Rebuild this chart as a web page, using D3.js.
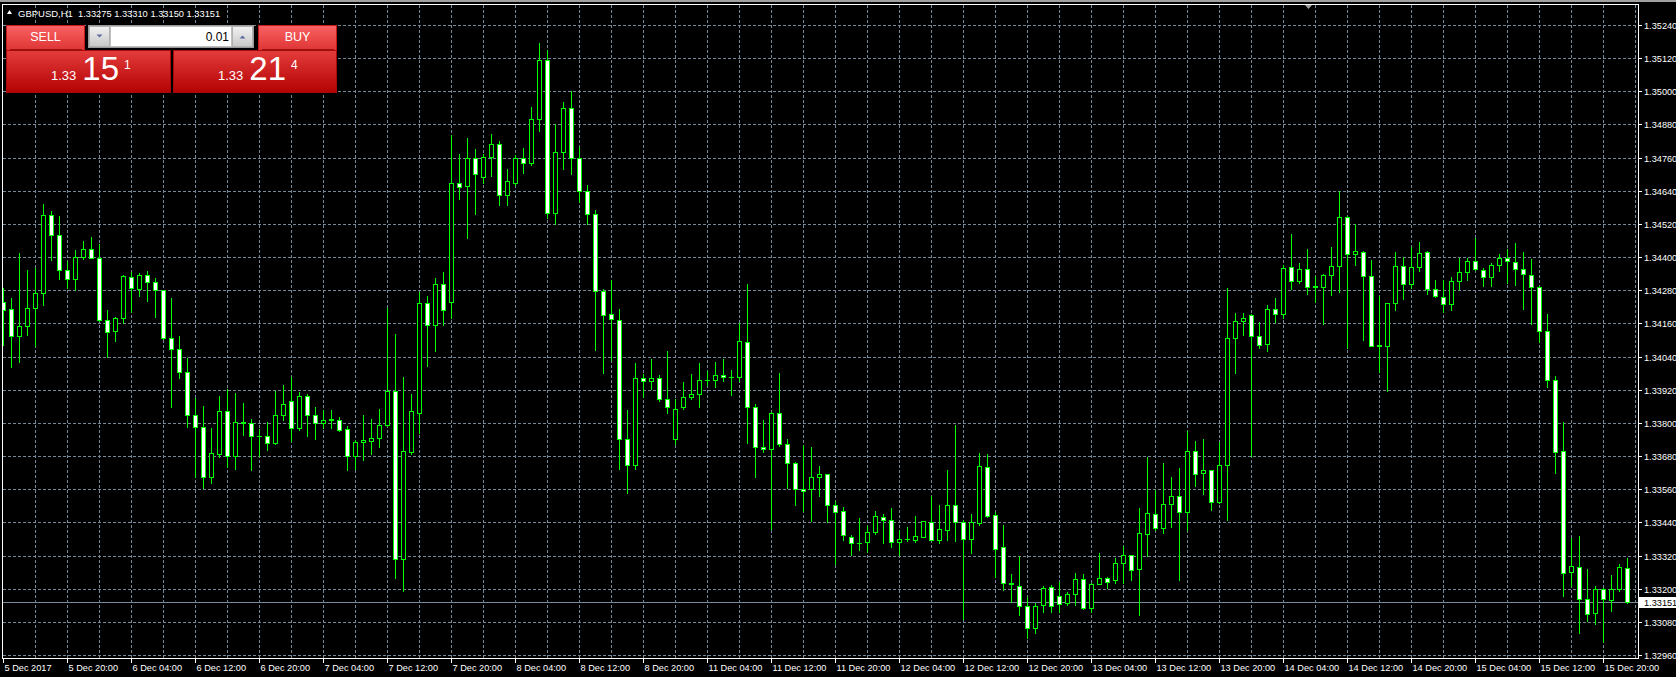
<!DOCTYPE html>
<html><head><meta charset="utf-8">
<script src="https://cdn.jsdelivr.net/npm/d3@7"></script>
<style>
html,body{margin:0;padding:0;background:#000;overflow:hidden}
svg{display:block}
text{font-family:"Liberation Sans",Arial,sans-serif}
</style></head><body>
<svg id="c" width="1676" height="677"></svg>
<script>
// ---- data (GBPUSD H1, 5 Dec 2017 12:00 .. 15 Dec 2017 23:00) ----
const open = [
1.34237,1.34212,1.34114,1.34150,1.34216,1.34270,1.34553,1.34480,1.34353,1.34321,
1.34401,1.34430,1.34397,1.34172,1.34131,1.34179,1.34328,1.34283,1.34335,1.34310,
1.34281,1.34106,1.34067,1.33984,1.33828,1.33784,1.33603,1.33686,1.33842,1.33680,
1.33800,1.33799,1.33754,1.33751,1.33728,1.33830,1.33878,1.33782,1.33899,1.33827,
1.33800,1.33812,1.33812,1.33777,1.33679,1.33730,1.33736,1.33747,1.33791,1.33915,
1.33308,1.33696,1.33837,1.34233,1.34155,1.34301,1.34238,1.34670,1.34658,1.34759,
1.34691,1.34763,1.34811,1.34623,1.34670,1.34757,1.34739,1.34898,1.35112,1.34560,
1.34780,1.34940,1.34760,1.34640,1.34556,1.34276,1.34193,1.34171,1.33740,1.33648,
1.33961,1.33950,1.33961,1.33885,1.33742,1.33856,1.33892,1.33903,1.33957,1.33956,
1.33975,1.33967,1.33965,1.34092,1.33859,1.33711,1.33704,1.33837,1.33722,1.33656,
1.33562,1.33559,1.33604,1.33615,1.33503,1.33481,1.33387,1.33365,1.33369,1.33405,
1.33459,1.33448,1.33369,1.33380,1.33376,1.33387,1.33441,1.33376,1.33412,1.33503,
1.33441,1.33380,1.33437,1.33640,1.33466,1.33351,1.33220,1.33209,1.33137,1.33057,
1.33141,1.33206,1.33173,1.33148,1.33181,1.33235,1.33130,1.33217,1.33239,1.33230,
1.33293,1.33321,1.33270,1.33398,1.33470,1.33420,1.33506,1.33535,1.33477,1.33698,
1.33619,1.33630,1.33514,1.33648,1.34108,1.34169,1.34191,1.34115,1.34086,1.34213,
1.34195,1.34365,1.34314,1.34358,1.34292,1.34292,1.34336,1.34368,1.34546,1.34412,
1.34419,1.34332,1.34079,1.34079,1.34234,1.34368,1.34303,1.34365,1.34419,1.34285,
1.34256,1.34231,1.34314,1.34347,1.34386,1.34354,1.34329,1.34372,1.34397,1.34383,
1.34358,1.34336,1.34292,1.34133,1.33956,1.33698,1.33260,1.33278,1.33162,1.33112,
1.33199,1.33159,1.33199,1.33275];
const high = [
1.34288,1.34253,1.34416,1.34355,1.34361,1.34594,1.34567,1.34547,1.34386,1.34424,
1.34460,1.34473,1.34449,1.34210,1.34184,1.34334,1.34346,1.34344,1.34351,1.34326,
1.34282,1.34253,1.34115,1.34034,1.33890,1.33861,1.33782,1.33897,1.33922,1.33909,
1.33872,1.33814,1.33778,1.33802,1.33917,1.33937,1.33967,1.33910,1.33904,1.33857,
1.33846,1.33846,1.33823,1.33787,1.33737,1.33830,1.33813,1.33850,1.34215,1.34120,
1.33966,1.33904,1.34274,1.34259,1.34324,1.34345,1.34842,1.34772,1.34830,1.34791,
1.34772,1.34844,1.34820,1.34718,1.34770,1.34795,1.34943,1.35174,1.35150,1.34880,
1.34960,1.35000,1.34800,1.34660,1.34570,1.34285,1.34317,1.34212,1.33846,1.34017,
1.33977,1.34031,1.33972,1.34060,1.33885,1.33948,1.33977,1.34017,1.33988,1.34020,
1.34031,1.33991,1.34160,1.34303,1.33867,1.33812,1.33840,1.33979,1.33743,1.33658,
1.33720,1.33714,1.33645,1.33616,1.33517,1.33495,1.33394,1.33457,1.33427,1.33481,
1.33470,1.33492,1.33412,1.33423,1.33463,1.33445,1.33536,1.33503,1.33630,1.33793,
1.33448,1.33470,1.33691,1.33687,1.33477,1.33430,1.33253,1.33320,1.33170,1.33148,
1.33209,1.33213,1.33224,1.33188,1.33258,1.33253,1.33220,1.33329,1.33242,1.33311,
1.33353,1.33321,1.33493,1.33677,1.33556,1.33655,1.33604,1.33638,1.33771,1.33736,
1.33740,1.33630,1.33732,1.34289,1.34196,1.34196,1.34195,1.34166,1.34227,1.34253,
1.34373,1.34482,1.34379,1.34428,1.34333,1.34339,1.34438,1.34640,1.34550,1.34518,
1.34423,1.34391,1.34260,1.34234,1.34420,1.34401,1.34437,1.34456,1.34423,1.34318,
1.34318,1.34329,1.34395,1.34397,1.34470,1.34361,1.34379,1.34412,1.34430,1.34452,
1.34419,1.34394,1.34295,1.34195,1.33970,1.33803,1.33385,1.33392,1.33271,1.33210,
1.33202,1.33249,1.33289,1.33310];
const low = [
1.34083,1.34004,1.34019,1.34117,1.34077,1.34225,1.34389,1.34320,1.34288,1.34280,
1.34392,1.34395,1.34170,1.34037,1.34098,1.34160,1.34200,1.34260,1.34242,1.34182,
1.34104,1.33859,1.33961,1.33784,1.33605,1.33565,1.33581,1.33678,1.33641,1.33634,
1.33756,1.33631,1.33680,1.33702,1.33725,1.33810,1.33735,1.33774,1.33753,1.33743,
1.33780,1.33781,1.33772,1.33630,1.33634,1.33667,1.33688,1.33713,1.33788,1.33239,
1.33190,1.33689,1.33765,1.34007,1.34061,1.34155,1.34178,1.34611,1.34469,1.34557,
1.34667,1.34694,1.34589,1.34589,1.34661,1.34705,1.34733,1.34857,1.34540,1.34520,
1.34720,1.34700,1.34600,1.34520,1.34064,1.33982,1.34027,1.33632,1.33546,1.33632,
1.33895,1.33922,1.33880,1.33834,1.33725,1.33851,1.33887,1.33858,1.33937,1.33931,
1.33951,1.33901,1.33951,1.33728,1.33604,1.33695,1.33417,1.33718,1.33563,1.33503,
1.33481,1.33444,1.33534,1.33441,1.33289,1.33376,1.33322,1.33339,1.33333,1.33398,
1.33365,1.33351,1.33322,1.33372,1.33369,1.33387,1.33376,1.33365,1.33376,1.33372,
1.33092,1.33329,1.33430,1.33459,1.33241,1.33194,1.33152,1.33105,1.33021,1.33039,
1.33115,1.33115,1.33115,1.33141,1.33141,1.33126,1.33114,1.33217,1.33202,1.33220,
1.33220,1.33230,1.33103,1.33317,1.33414,1.33401,1.33423,1.33230,1.33412,1.33570,
1.33543,1.33486,1.33510,1.33450,1.33980,1.34117,1.33680,1.34070,1.34059,1.34164,
1.34180,1.34285,1.34307,1.34267,1.34237,1.34158,1.34262,1.34273,1.34071,1.34373,
1.34099,1.34079,1.33985,1.33916,1.34209,1.34248,1.34289,1.34350,1.34267,1.34256,
1.34202,1.34209,1.34286,1.34318,1.34354,1.34294,1.34294,1.34349,1.34307,1.34300,
1.34213,1.34158,1.34093,1.33929,1.33619,1.33172,1.33209,1.33038,1.33082,1.33071,
1.33006,1.33121,1.33191,1.33150];
const close = [
1.34208,1.34115,1.34150,1.34216,1.34270,1.34553,1.34480,1.34353,1.34321,1.34401,
1.34430,1.34397,1.34172,1.34129,1.34179,1.34332,1.34287,1.34335,1.34309,1.34281,
1.34106,1.34067,1.33984,1.33828,1.33784,1.33603,1.33690,1.33842,1.33680,1.33802,
1.33803,1.33754,1.33752,1.33728,1.33830,1.33870,1.33782,1.33899,1.33827,1.33800,
1.33812,1.33813,1.33773,1.33679,1.33730,1.33737,1.33747,1.33791,1.33915,1.33308,
1.33698,1.33842,1.34233,1.34155,1.34301,1.34210,1.34670,1.34654,1.34759,1.34699,
1.34763,1.34811,1.34623,1.34674,1.34757,1.34740,1.34898,1.35112,1.34560,1.34780,
1.34940,1.34760,1.34640,1.34556,1.34276,1.34189,1.34175,1.33740,1.33648,1.33961,
1.33950,1.33961,1.33888,1.33856,1.33852,1.33892,1.33903,1.33957,1.33956,1.33975,
1.33967,1.33966,1.34096,1.33859,1.33714,1.33704,1.33837,1.33722,1.33656,1.33561,
1.33555,1.33603,1.33615,1.33503,1.33477,1.33394,1.33365,1.33366,1.33405,1.33463,
1.33448,1.33369,1.33380,1.33381,1.33390,1.33445,1.33376,1.33416,1.33503,1.33441,
1.33380,1.33441,1.33644,1.33463,1.33343,1.33220,1.33216,1.33137,1.33057,1.33137,
1.33202,1.33137,1.33144,1.33181,1.33235,1.33130,1.33217,1.33239,1.33224,1.33293,
1.33321,1.33267,1.33401,1.33474,1.33420,1.33506,1.33535,1.33477,1.33698,1.33615,
1.33630,1.33514,1.33648,1.34108,1.34169,1.34180,1.34115,1.34082,1.34213,1.34195,
1.34361,1.34314,1.34358,1.34292,1.34294,1.34336,1.34368,1.34546,1.34412,1.34423,
1.34332,1.34079,1.34081,1.34234,1.34368,1.34303,1.34365,1.34415,1.34285,1.34260,
1.34231,1.34314,1.34347,1.34386,1.34358,1.34329,1.34372,1.34397,1.34386,1.34358,
1.34339,1.34292,1.34133,1.33956,1.33695,1.33257,1.33282,1.33162,1.33108,1.33199,
1.33162,1.33199,1.33278,1.33151];
const xTickLabels = ["5 Dec 2017","5 Dec 20:00","6 Dec 04:00","6 Dec 12:00","6 Dec 20:00","7 Dec 04:00",
 "7 Dec 12:00","7 Dec 20:00","8 Dec 04:00","8 Dec 12:00","8 Dec 20:00","11 Dec 04:00","11 Dec 12:00",
 "11 Dec 20:00","12 Dec 04:00","12 Dec 12:00","12 Dec 20:00","13 Dec 04:00","13 Dec 12:00","13 Dec 20:00",
 "14 Dec 04:00","14 Dec 12:00","14 Dec 20:00","15 Dec 04:00","15 Dec 12:00","15 Dec 20:00"];
const yTickLabels = ["1.32960","1.33080","1.33200","1.33320","1.33440","1.33560","1.33680","1.33800",
 "1.33920","1.34040","1.34160","1.34280","1.34400","1.34520","1.34640","1.34760","1.34880","1.35000",
 "1.35120","1.35240"];
const symbolTitle = "GBPUSD,H1";
const ohlcText = "1.33275 1.33310 1.33150 1.33151";
const bidPrice = 1.33151;
const lotSize = "0.01";
const sellQuote = ["1.33","15","1"];
const buyQuote = ["1.33","21","4"];

// ---- drawing ----
const svg = d3.select("#c");
const L = 3, R = 1638, T = 4, B = 658;
const y = d3.scaleLinear().domain([+yTickLabels[0], +yTickLabels[yTickLabels.length-1]]).range([655, 25]);
const x = d3.scaleLinear().domain([0, 1]).range([3.5, 11.5]);
const crisp = v => Math.round(v) + 0.5;
const GRID = "#778899", BULL = "#00ff00";

svg.append("rect").attr("width",1676).attr("height",677).attr("fill","#000");
const defs = svg.append("defs");
defs.append("clipPath").attr("id","plot").append("rect").attr("x",L).attr("y",T+1).attr("width",R-L).attr("height",B-T-1);

// grid
const g = svg.append("g");
g.selectAll("line.h").data(yTickLabels).join("line")
  .attr("x1",L).attr("x2",R).attr("y1",d=>crisp(y(+d))).attr("y2",d=>crisp(y(+d)))
  .attr("stroke",GRID).attr("stroke-dasharray","3,2");
g.selectAll("line.v").data(d3.range(4, 205, 4)).join("line")
  .attr("x1",d=>x(d)).attr("x2",d=>x(d)).attr("y1",T+1).attr("y2",B)
  .attr("stroke",GRID).attr("stroke-dasharray","3,2");

// bid line
g.append("line").attr("x1",L).attr("x2",R).attr("y1",crisp(y(bidPrice))).attr("y2",crisp(y(bidPrice)))
  .attr("stroke",GRID);

// candles
const bars = open.map((o,i)=>({i,o,h:high[i],l:low[i],c:close[i]}));
const cg = svg.append("g").attr("clip-path","url(#plot)");
cg.selectAll("line.w").data(bars).join("line")
  .attr("x1",d=>x(d.i)).attr("x2",d=>x(d.i))
  .attr("y1",d=>Math.round(y(d.h))).attr("y2",d=>Math.round(y(d.l))+1)
  .attr("stroke",BULL);
bars.forEach(d=>{
  const top = Math.round(y(Math.max(d.o,d.c))), bot = Math.round(y(Math.min(d.o,d.c)));
  const cx = x(d.i);
  if (bot - top < 1) {
    cg.append("line").attr("x1",cx-2.5).attr("x2",cx+2.5).attr("y1",top+0.5).attr("y2",top+0.5).attr("stroke",BULL);
  } else {
    cg.append("rect").attr("x",cx-2).attr("y",top+0.5).attr("width",4).attr("height",bot-top)
      .attr("fill", d.c < d.o ? "#ffffff" : "#000000").attr("stroke",BULL);
  }
});

// frame
svg.append("rect").attr("x",0).attr("y",0).attr("width",1676).attr("height",2).attr("fill","#a0a0a0");
svg.append("line").attr("x1",2.5).attr("x2",2.5).attr("y1",T).attr("y2",B+1).attr("stroke","#fff");
svg.append("line").attr("x1",2).attr("x2",R+1).attr("y1",T+0.5).attr("y2",T+0.5).attr("stroke","#fff");
svg.append("line").attr("x1",2).attr("x2",R+1).attr("y1",B+0.5).attr("y2",B+0.5).attr("stroke","#fff");
svg.append("line").attr("x1",R+0.5).attr("x2",R+0.5).attr("y1",T).attr("y2",B+1).attr("stroke","#fff");

// y axis
const ya = svg.append("g");
ya.selectAll("line").data(yTickLabels).join("line")
  .attr("x1",R+1).attr("x2",R+4).attr("y1",d=>crisp(y(+d))).attr("y2",d=>crisp(y(+d))).attr("stroke","#fff");
ya.selectAll("text").data(yTickLabels).join("text")
  .attr("x",1644).attr("y",d=>Math.round(y(+d))+3.7).attr("fill","#fff").attr("font-size","9.2px").text(d=>d);
// bid label
svg.append("rect").attr("x",1639).attr("y",Math.round(y(bidPrice))-5).attr("width",37).attr("height",11).attr("fill","#fff");
svg.append("text").attr("x",1644).attr("y",Math.round(y(bidPrice))+3.7).attr("fill","#000").attr("font-size","9.2px").text(bidPrice.toFixed(5));

// x axis
const xa = svg.append("g");
xa.selectAll("line").data(xTickLabels).join("line")
  .attr("x1",(d,i)=>x(i*8)).attr("x2",(d,i)=>x(i*8)).attr("y1",B+1).attr("y2",B+5).attr("stroke","#fff");
xa.selectAll("text").data(xTickLabels).join("text")
  .attr("x",(d,i)=>x(i*8)+1).attr("y",671).attr("fill","#fff").attr("font-size","9.2px").text(d=>d);

// header
svg.append("path").attr("d","M7,14 L12,14 L9.5,10 Z").attr("fill","#fff");
svg.append("text").attr("x",18).attr("y",16.5).attr("fill","#fff").attr("font-size","9.5px").text(symbolTitle);
svg.append("text").attr("x",78).attr("y",16.5).attr("fill","#fff").attr("font-size","9.3px").text(ohlcText);
// shift marker
svg.append("path").attr("d","M1305,5 L1312,5 L1308.5,9 Z").attr("fill","#a0a0a0");

// one-click trading panel
const gr1 = defs.append("linearGradient").attr("id","btn").attr("x1",0).attr("x2",0).attr("y1",0).attr("y2",1);
gr1.append("stop").attr("offset","0").attr("stop-color","#fb6262");
gr1.append("stop").attr("offset","1").attr("stop-color","#de3434");
const gr2 = defs.append("linearGradient").attr("id","box").attr("x1",0).attr("x2",0).attr("y1",0).attr("y2",1);
gr2.append("stop").attr("offset","0").attr("stop-color","#e43c3c");
gr2.append("stop").attr("offset","1").attr("stop-color","#b40202");
const gr3 = defs.append("linearGradient").attr("id","gbtn").attr("x1",0).attr("x2",0).attr("y1",0).attr("y2",1);
gr3.append("stop").attr("offset","0").attr("stop-color","#f2f2f2");
gr3.append("stop").attr("offset","1").attr("stop-color","#c8c8c8");

const p = svg.append("g");
function side(bx, bw, btnX, btnW, label, q){
  p.append("rect").attr("x",btnX+0.5).attr("y",25.5).attr("width",btnW-1).attr("height",25).attr("fill","url(#btn)").attr("stroke","#c41a1a");
  p.append("rect").attr("x",bx+0.5).attr("y",50.5).attr("width",bw-1).attr("height",42).attr("fill","url(#box)").attr("stroke","#a80a0a");
  p.append("line").attr("x1",btnX+4).attr("x2",btnX+btnW-3).attr("y1",49.5).attr("y2",49.5).attr("stroke","#9c1010");
  p.append("text").attr("x",btnX+btnW/2).attr("y",41).attr("text-anchor","middle").attr("fill","#fff").attr("font-size","12.5px").text(label);
  const t = p.append("text").attr("x",bx+45).attr("y",80).attr("fill","#fff");
  t.append("tspan").attr("font-size","13px").text(q[0]);
  t.append("tspan").attr("dx",6).attr("font-size","33px").text(q[1]);
  t.append("tspan").attr("dx",5).attr("dy",-11).attr("font-size","12px").text(q[2]);
}
side(6, 165, 6, 79, "SELL", sellQuote);
side(173, 164, 258, 79, "BUY", buyQuote);
// lot box
p.append("rect").attr("x",88.5).attr("y",25.5).attr("width",165).attr("height",22).attr("fill","#d8d8d8").attr("stroke","#9a9a9a");
p.append("rect").attr("x",89.5).attr("y",26.5).attr("width",20).attr("height",20).attr("fill","url(#gbtn)").attr("stroke","#b0b0b0");
p.append("rect").attr("x",232.5).attr("y",26.5).attr("width",20).attr("height",20).attr("fill","url(#gbtn)").attr("stroke","#b0b0b0");
p.append("rect").attr("x",110.5).attr("y",26.5).attr("width",121).attr("height",20).attr("fill","#fff").attr("stroke","#c0c0c0");
p.append("path").attr("d","M96.5,34.5 L102.5,34.5 L99.5,37.5 Z").attr("fill","#5a6aa0");
p.append("path").attr("d","M239.5,38.5 L245.5,38.5 L242.5,35.5 Z").attr("fill","#5a6aa0");
p.append("text").attr("x",229).attr("y",41).attr("text-anchor","end").attr("fill","#000").attr("font-size","12px").text(lotSize);
</script>
</body></html>
